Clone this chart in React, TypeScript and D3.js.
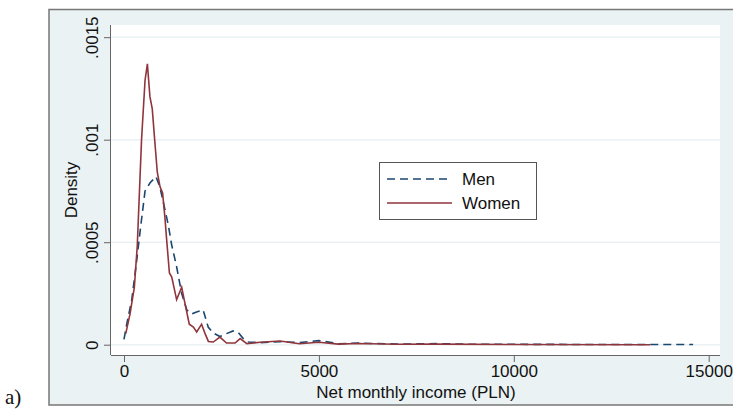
import React, { useRef, useEffect } from 'react';
import * as d3 from 'd3';

// kernel density estimates
const menIncome = [0, 70, 200, 325, 430, 540, 670, 820, 920, 1050, 1140, 1220, 1350, 1480, 1610, 1740, 1860, 2030, 2160, 2290, 2460, 2630, 2800, 2930, 3060, 3190, 3500, 4000, 4500, 5000, 5500, 6000, 7000, 8000, 9000, 10000, 12000, 14600];
const menDensity = [0.000026, 0.0001, 0.00022, 0.00041, 0.00058, 0.00075, 0.00079, 0.00082, 0.00077, 0.00066, 0.00058, 0.00049, 0.00038, 0.00025, 0.00017, 0.00015, 0.00016, 0.00017, 0.000086, 0.000057, 0.00004, 0.000054, 0.000067, 0.00006, 0.00003, 0.000013, 0.00001, 0.000015, 0.00001, 0.00002, 0.000005, 0.000008, 0.000003, 0.000005, 0.000002, 0.000002, 0.000001, 0.000001];

const womenIncome = [45, 155, 265, 340, 450, 540, 600, 665, 725, 795, 855, 925, 990, 1050, 1095, 1165, 1225, 1350, 1480, 1565, 1675, 1780, 1865, 1990, 2080, 2165, 2290, 2460, 2630, 2850, 2980, 3150, 3500, 4000, 4500, 5000, 5500, 6000, 7000, 8000, 10000, 13500];
const womenDensity = [0.000054, 0.00015, 0.00028, 0.00048, 0.001, 0.00129, 0.00137, 0.00121, 0.00115, 0.00098, 0.00084, 0.00077, 0.00074, 0.00062, 0.00051, 0.00035, 0.00033, 0.00022, 0.00028, 0.0002, 0.0001, 0.000086, 0.000062, 0.0001, 0.000054, 0.000016, 0.000013, 0.000037, 0.000008, 0.000008, 0.00003, 0.000005, 0.000012, 0.000018, 0.000005, 0.000012, 0.000003, 0.000006, 0.000002, 0.000003, 0.000001, 0];

const xTicks = [0, 5000, 10000, 15000];
const yTicks = [0, 0.0005, 0.001, 0.0015];
const yTickLabels = ['0', '.0005', '.001', '.0015'];

const NAVY = '#1a476f';
const MAROON = '#90353b';
const BG = '#eaf2f3';
const FONT = 'Liberation Sans, Arial, sans-serif';

const App: React.FC = () => {
    const ref = useRef<SVGSVGElement | null>(null);

    useEffect(() => {
        if (!ref.current) return;
        const width = 733;
        const height = 410;
        const plot = { left: 111, right: 720, top: 25, bottom: 355 };

        const svg = d3.select(ref.current);
        svg.selectAll('*').remove();
        svg.attr('width', width).attr('height', height);

        // outer graph region
        svg.append('rect')
            .attr('x', 49).attr('y', 9.5)
            .attr('width', 700).attr('height', 395.5)
            .attr('fill', BG)
            .attr('stroke', '#777').attr('stroke-width', 1.5);

        // plot region
        svg.append('rect')
            .attr('x', plot.left).attr('y', plot.top)
            .attr('width', plot.right - plot.left).attr('height', plot.bottom - plot.top)
            .attr('fill', '#fff');

        const x = d3.scaleLinear().domain([0, 15000]).range([124, 708.7]);
        const y = d3.scaleLinear().domain([0, 0.0015]).range([344.7, 37.2]);

        // gridlines
        svg.append('g')
            .selectAll('line')
            .data(yTicks)
            .join('line')
            .attr('x1', plot.left).attr('x2', plot.right)
            .attr('y1', d => y(d)).attr('y2', d => y(d))
            .attr('stroke', BG).attr('stroke-width', 1.5);

        // x axis
        const xAxis = svg.append('g')
            .attr('transform', `translate(0,${plot.bottom})`)
            .call(d3.axisBottom(x).tickValues(xTicks).tickSize(7).tickPadding(3).tickFormat(d => String(d)));
        xAxis.select('.domain').attr('d', `M${plot.left},0.5H${plot.right}`).attr('stroke', '#666');
        xAxis.selectAll('.tick line').attr('stroke', '#666');
        xAxis.selectAll('.tick text')
            .attr('font-family', FONT).attr('font-size', 17).attr('fill', '#111');

        // y axis
        const yAxis = svg.append('g')
            .attr('transform', `translate(${plot.left},0)`)
            .call(d3.axisLeft(y).tickValues(yTicks).tickSize(7).tickFormat((_, i) => yTickLabels[i]));
        yAxis.select('.domain').attr('d', `M-0.5,${plot.top}V${plot.bottom}`).attr('stroke', '#666');
        yAxis.selectAll('.tick line').attr('stroke', '#666');
        yAxis.selectAll('.tick text')
            .attr('font-family', FONT).attr('font-size', 17).attr('fill', '#111')
            .attr('x', 0).attr('dy', 0)
            .attr('text-anchor', 'middle')
            .attr('transform', 'translate(-13,0) rotate(-90)');

        // axis titles
        svg.append('text')
            .attr('x', 416).attr('y', 398)
            .attr('text-anchor', 'middle')
            .attr('font-family', FONT).attr('font-size', 17).attr('fill', '#111')
            .text('Net monthly income (PLN)');
        svg.append('text')
            .attr('transform', 'translate(77,190) rotate(-90)')
            .attr('text-anchor', 'middle')
            .attr('font-family', FONT).attr('font-size', 17).attr('fill', '#111')
            .text('Density');

        const line = d3.line<[number, number]>()
            .x(d => x(d[0]))
            .y(d => y(d[1]));

        const men = menIncome.map((v, i) => [v, menDensity[i]] as [number, number]);
        const women = womenIncome.map((v, i) => [v, womenDensity[i]] as [number, number]);

        svg.append('path')
            .attr('d', line(men) as string)
            .attr('fill', 'none')
            .attr('stroke', NAVY).attr('stroke-width', 1.6)
            .attr('stroke-dasharray', '8,5');
        svg.append('path')
            .attr('d', line(women) as string)
            .attr('fill', 'none')
            .attr('stroke', MAROON).attr('stroke-width', 1.6);

        // legend
        const lg = svg.append('g');
        lg.append('rect')
            .attr('x', 379.5).attr('y', 162.5)
            .attr('width', 157).attr('height', 57)
            .attr('fill', '#fff').attr('stroke', '#555').attr('stroke-width', 1);
        const items = [
            { label: 'Men', color: NAVY, dash: '8,5', y: 179 },
            { label: 'Women', color: MAROON, dash: null, y: 203 },
        ];
        items.forEach(it => {
            lg.append('line')
                .attr('x1', 387).attr('x2', 452)
                .attr('y1', it.y).attr('y2', it.y)
                .attr('stroke', it.color).attr('stroke-width', 1.6)
                .attr('stroke-dasharray', it.dash);
            lg.append('text')
                .attr('x', 462).attr('y', it.y + 6)
                .attr('font-family', FONT).attr('font-size', 17).attr('fill', '#111')
                .text(it.label);
        });

        // panel label
        svg.append('text')
            .attr('x', 5).attr('y', 404)
            .attr('font-family', 'Liberation Serif, Times New Roman, serif')
            .attr('font-size', 21).attr('fill', '#111')
            .text('a)');
    }, []);

    return (
        <div style={{ position: 'absolute', left: 0, top: 0 }}>
            <svg ref={ref} style={{ display: 'block' }} />
        </div>
    );
};

export default App;
